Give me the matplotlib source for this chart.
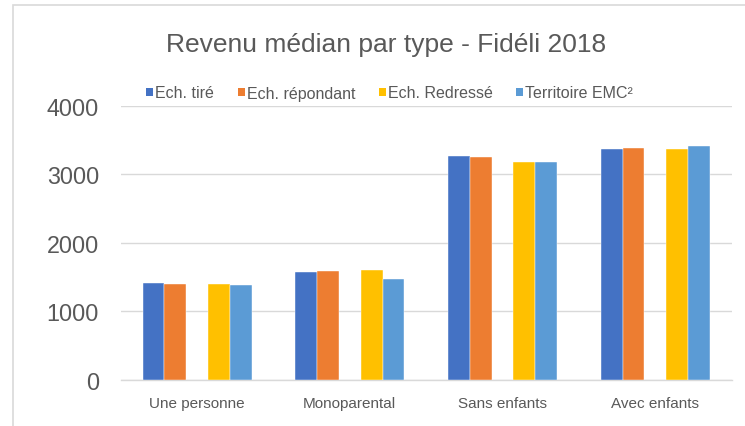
import numpy as np
import matplotlib
matplotlib.use("Agg")
import matplotlib.pyplot as plt
from matplotlib.patches import Patch, Rectangle

# Data
categories = ["Une personne", "Monoparental", "Sans enfants", "Avec enfants"]
ech_tire = [1407, 1577, 3261, 3363]
ech_repondant = [1402, 1582, 3251, 3387]
ech_redresse = [1393, 1606, 3174, 3368]
territoire = [1388, 1470, 3183, 3411]

series_names = ["Ech. tiré", "Ech. répondant", "Ech. Redressé", "Territoire EMC²"]
series_values = [ech_tire, ech_repondant, ech_redresse, territoire]
colors = ["#4472C4", "#ED7D31", "#FFC000", "#5B9BD5"]
# Excel layout: 5 slots per group (middle one empty), gap of 2 bar widths
slots = [0, 1, 3, 4]

plt.rcParams["font.family"] = ["Liberation Sans", "DejaVu Sans"]
text_color = "#595959"
grid_color = "#D9D9D9"

fig = plt.figure(figsize=(7.45, 4.27), dpi=100)
ax = fig.add_axes([0.162, 0.1084, 0.820, 0.6417])

x = np.arange(len(categories))
w = 1 / 7
for name, vals, col, s in zip(series_names, series_values, colors, slots):
    ax.bar(x + (s - 2) * w, vals, width=w, color=col, edgecolor="white",
           linewidth=0.3, label=name, zorder=3)

ax.set_xlim(-0.5, len(categories) - 0.5)
ax.set_ylim(0, 4000)
ax.set_yticks([0, 1000, 2000, 3000, 4000])
ax.set_xticks(x)
ax.set_xticklabels(categories)

ax.yaxis.grid(True, color=grid_color, linewidth=1.0, zorder=0)
ax.set_axisbelow(True)
for side in ["top", "right", "left"]:
    ax.spines[side].set_visible(False)
ax.spines["bottom"].set_color(grid_color)
ax.spines["bottom"].set_linewidth(1.0)
ax.tick_params(axis="y", length=0, pad=15.6, labelsize=16.8, labelcolor=text_color)
ax.tick_params(axis="x", length=0, pad=12, labelsize=11, labelcolor=text_color)

# Title
fig.text(0.518, 1 - 51.7 / 427, "Revenu médian par type - Fidéli 2018",
         ha="center", va="baseline", fontsize=19, color=text_color)

# Legend
handles = [Patch(facecolor=c, edgecolor="none") for c in colors]
fig.legend(handles, series_names, loc="center", ncol=4,
           bbox_to_anchor=(389.5 / 745, 1 - 94 / 427), frameon=False,
           fontsize=11.5, labelcolor=text_color, handlelength=0.44,
           handleheight=0.44, handletextpad=0.12, columnspacing=1.48,
           borderaxespad=0, borderpad=0)

# Chart area border (cropped at right and bottom)
fig.patches.append(Rectangle((13 / 745, -0.1), 1.2, 1.1 - 6 / 427,
                             transform=fig.transFigure, fill=False,
                             edgecolor=grid_color, linewidth=1.2))

fig.savefig("out.png", dpi=100)
